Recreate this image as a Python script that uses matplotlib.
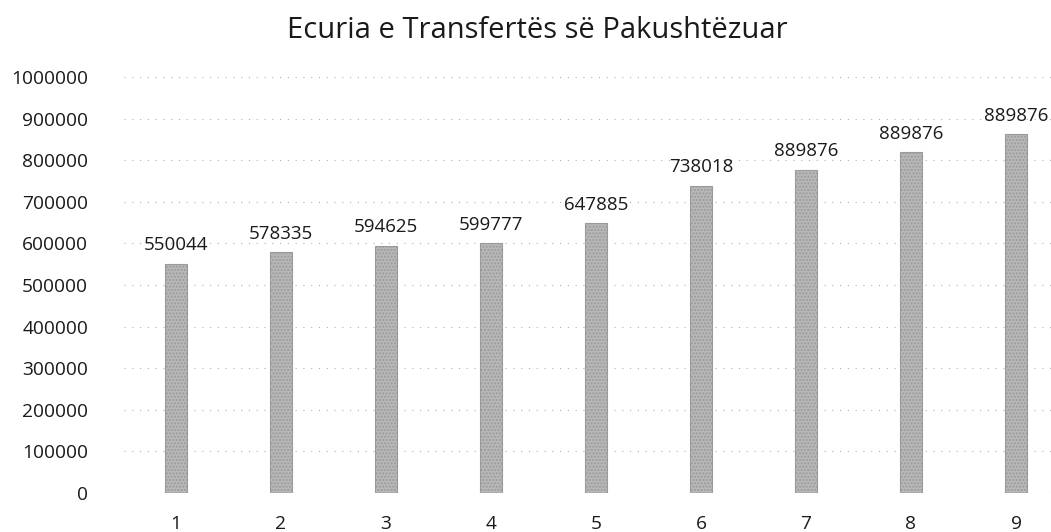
import matplotlib
matplotlib.use("Agg")
import matplotlib.pyplot as plt

categories = ["1", "2", "3", "4", "5", "6", "7", "8", "9"]
bar_heights = [550044, 578335, 594625, 599777, 647885, 738018, 776000, 819000, 862000]
bar_labels = ["550044", "578335", "594625", "599777", "647885", "738018", "889876", "889876", "889876"]
y_ticks = [0, 100000, 200000, 300000, 400000, 500000, 600000, 700000, 800000, 900000, 1000000]
title = "Ecuria e Transfertës së Pakushtëzuar"

plt.rcParams['font.family'] = ['Open Sans', 'DejaVu Sans']

fig = plt.figure(figsize=(10.51, 5.32), dpi=100)
ax = fig.add_axes([123.5 / 1051, 39 / 532, 945 / 1051, 416 / 532])

x = list(range(1, len(categories) + 1))
bars = ax.bar(x, bar_heights, width=0.21, color='#b8b8b8', edgecolor='#9a9a9a',
              linewidth=0.8, hatch='.....', zorder=3)

for xi, h, lab in zip(x, bar_heights, bar_labels):
    ax.annotate(lab, (xi, h), xytext=(0, 7), textcoords='offset points',
                ha='center', va='bottom', fontsize=13.5, color='#1a1a1a')

ax.set_xlim(0.5, len(categories) + 0.5)
ax.set_ylim(0, 1000000)
ax.set_yticks(y_ticks)
ax.set_yticklabels([str(t) for t in y_ticks])
ax.set_xticks(x)
ax.set_xticklabels(categories)
ax.tick_params(axis='both', length=0, labelsize=13.8, colors='#1a1a1a')
ax.tick_params(axis='y', pad=25.5)
ax.tick_params(axis='x', pad=16)
for s in ax.spines.values():
    s.set_visible(False)
ax.yaxis.grid(True, linestyle=(0, (1, 6)), color='#b0b0b0', linewidth=0.8, zorder=0)
ax.set_axisbelow(True)

fig.text(537 / 1051, 1 - 30 / 532, title, ha='center', va='center', fontsize=21, color='#1a1a1a')

fig.savefig("out.png", dpi=100)
